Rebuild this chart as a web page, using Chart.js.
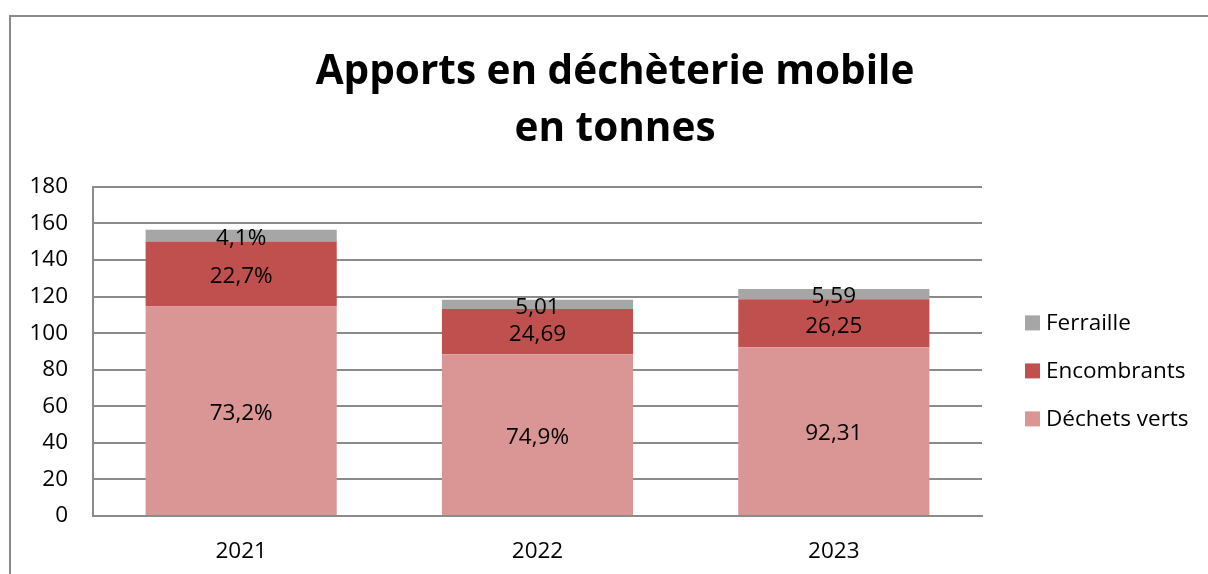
<!DOCTYPE html>
<html lang="fr">
<head>
<meta charset="utf-8">
<title>Apports en déchèterie mobile</title>
<script src="https://cdn.jsdelivr.net/npm/chart.js@4"></script>
<style>
  html, body { margin: 0; padding: 0; background: #fff; overflow: hidden; }
  #apportsChart { display: block; }
</style>
</head>
<body>
<canvas id="apportsChart" width="1208" height="574"></canvas>
<script>
// données (tonnes)
const annees = ['2021', '2022', '2023'];
const dechetsVerts = [114.6, 88.5, 92.31];
const encombrants = [35.5, 24.69, 26.25];
const ferraille = [6.4, 5.01, 5.59];

// étiquettes affichées sur les barres (telles quelles dans l'original)
const etiquettesVerts = ['73,2%', '74,9%', '92,31'];
const etiquettesEncombrants = ['22,7%', '24,69', '26,25'];
const etiquettesFerraille = ['4,1%', '5,01', '5,59'];

const graduationsY = [0, 20, 40, 60, 80, 100, 120, 140, 160, 180];

const police = '"Open Sans", Lato, sans-serif';
const gris = '#8b8b8b';

// cadre du graphique (bord haut et gauche visibles)
const cadre = {
    id: 'cadre',
    beforeDraw(chart) {
        const c = chart.ctx;
        c.save();
        c.strokeStyle = gris;
        c.lineWidth = 2;
        c.beginPath();
        c.moveTo(10, chart.height);
        c.lineTo(10, 16);
        c.lineTo(chart.width, 16);
        c.stroke();
        c.restore();
    }
};

// étiquettes au centre de chaque segment
const etiquettes = {
    id: 'etiquettes',
    afterDatasetsDraw(chart) {
        const c = chart.ctx;
        c.save();
        c.font = '22.5px ' + police;
        c.fillStyle = '#000';
        c.textAlign = 'center';
        c.textBaseline = 'middle';
        chart.data.datasets.forEach(function(ds, i) {
            const meta = chart.getDatasetMeta(i);
            meta.data.forEach(function(bar, j) {
                c.fillText(ds.etiquettes[j], bar.x, (bar.y + bar.base) / 2 + 3);
            });
        });
        c.restore();
    }
};

// légende à droite, ordre inversé
const legende = {
    id: 'legende',
    afterDraw(chart) {
        const c = chart.ctx;
        const area = chart.chartArea;
        const x = area.right + 43;
        const yMilieu = (area.top + area.bottom) / 2 + 19;
        const items = chart.data.datasets.slice().reverse();
        c.save();
        c.font = '22.5px ' + police;
        c.textBaseline = 'middle';
        c.textAlign = 'left';
        items.forEach(function(ds, k) {
            const y = yMilieu + (k - 1) * 48;
            c.fillStyle = ds.backgroundColor;
            c.fillRect(x, y - 7, 15, 15);
            c.fillStyle = '#000';
            c.fillText(ds.label, x + 21, y + 1);
        });
        c.restore();
    }
};

const ctx = document.getElementById('apportsChart').getContext('2d');

new Chart(ctx, {
    type: 'bar',
    data: {
        labels: annees,
        datasets: [{
            label: 'Déchets verts',
            data: dechetsVerts,
            etiquettes: etiquettesVerts,
            backgroundColor: '#d99694'
        }, {
            label: 'Encombrants',
            data: encombrants,
            etiquettes: etiquettesEncombrants,
            backgroundColor: '#c0504d'
        }, {
            label: 'Ferraille',
            data: ferraille,
            etiquettes: etiquettesFerraille,
            backgroundColor: '#a6a6a6'
        }]
    },
    options: {
        responsive: false,
        animation: false,
        devicePixelRatio: 1,
        layout: {
            padding: { left: 22, right: 0, top: 0, bottom: 0 }
        },
        datasets: {
            bar: { categoryPercentage: 1, barPercentage: 0.645, borderWidth: 0 }
        },
        scales: {
            x: {
                stacked: true,
                afterFit(scale) { scale.height = 58; },
                grid: { display: false, drawTicks: false },
                border: { display: true, color: gris, width: 2 },
                ticks: { color: '#000', padding: 22, font: { family: police, size: 22.5 } }
            },
            y: {
                stacked: true,
                min: 0,
                max: 180,
                afterBuildTicks(scale) {
                    scale.ticks = graduationsY.map(v => ({ value: v }));
                },
                afterFit(scale) { scale.width = 71; },
                grid: { color: gris, lineWidth: 2, drawTicks: false },
                border: { display: true, color: gris, width: 2 },
                ticks: { color: '#000', padding: 25, font: { family: police, size: 22.5 } }
            },
            espace: {
                position: 'right',
                display: true,
                afterFit(scale) { scale.width = 226; },
                grid: { display: false, drawTicks: false },
                border: { display: false },
                ticks: { display: false }
            }
        },
        plugins: {
            legend: { display: false },
            tooltip: { enabled: false },
            title: {
                display: true,
                text: ['Apports en déchèterie mobile', 'en tonnes'],
                color: '#000',
                font: { family: police, size: 40.5, weight: 'bold', lineHeight: 1.405 },
                padding: { top: 44, bottom: 29 }
            }
        }
    },
    plugins: [cadre, etiquettes, legende]
});
</script>
</body>
</html>
